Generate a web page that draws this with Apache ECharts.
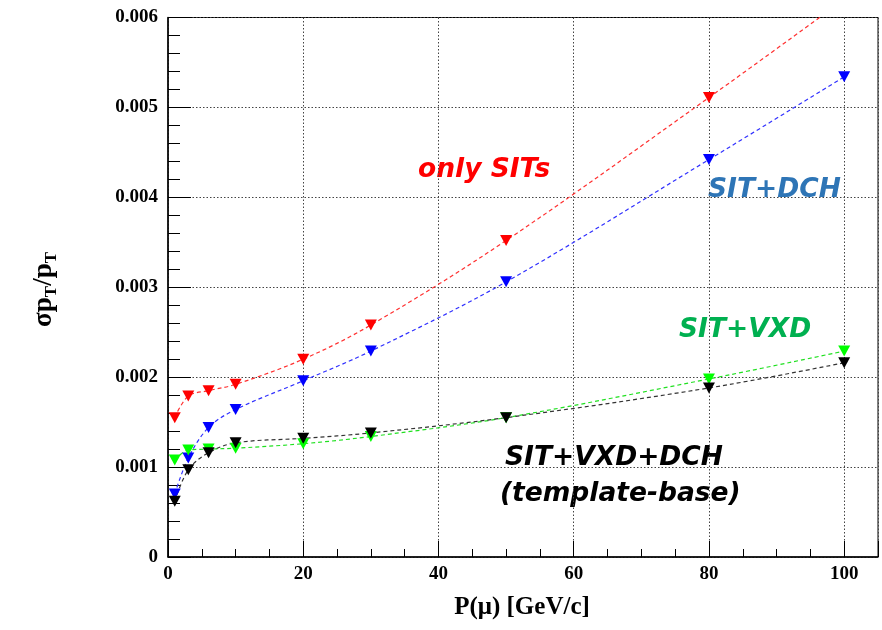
<!DOCTYPE html>
<html><head><meta charset="utf-8">
<script src="https://cdn.jsdelivr.net/npm/echarts@6/dist/echarts.min.js"></script>
<style>html,body{margin:0;padding:0;background:#fff}#c{width:882px;height:630px}</style>
</head><body><div id="c"></div>
<script>
var momenta = [1, 3, 6, 10, 20, 30, 50, 80, 100];
var onlySIT = [0.00155, 0.00179, 0.00185, 0.00192, 0.00220, 0.00258, 0.00352, 0.00511, 0.00620];
var sitDCH = [0.00070, 0.00110, 0.00144, 0.00164, 0.00196, 0.00229, 0.00306, 0.00442, 0.00534];
var sitVXD = [0.00108, 0.00119, 0.00120, 0.00121, 0.00126, 0.00134, 0.00155, 0.00198, 0.00229];
var sitVXDDCH = [0.00062, 0.00097, 0.00116, 0.00127, 0.00132, 0.00138, 0.00155, 0.00188, 0.00216];
var yTicks = ['0', '0.001', '0.002', '0.003', '0.004', '0.005', '0.006'];
var xTicks = ['0', '20', '40', '60', '80', '100'];

function pairs(v) { return momenta.map(function (x, i) { return [x, v[i]]; }); }
function mk(name, vals, mColor, lColor) {
  return {
    name: name, type: 'line', data: pairs(vals), smooth: 0.35, clip: true,
    symbol: 'triangle', symbolRotate: 180, symbolSize: [12, 11],
    itemStyle: { color: mColor },
    lineStyle: { color: lColor, width: 1.2, type: [4, 3] }
  };
}
var serif = '"Liberation Serif", "DejaVu Serif", serif';
var sans = '"DejaVu Sans", sans-serif';
function note(x, y, text, color) {
  return { type: 'text', x: x, y: y, style: { text: text, fontFamily: sans, fontStyle: 'italic', fontWeight: 'bold', fontSize: 26.5, fill: color, verticalAlign: 'middle' } };
}
var chart = echarts.init(document.getElementById('c'));
chart.setOption({
  animation: false,
  backgroundColor: '#fff',
  grid: { left: 168, right: 4, top: 17.5, bottom: 73, show: true, borderColor: '#000', borderWidth: 1, backgroundColor: 'transparent' },
  xAxis: {
    type: 'value', min: 0, max: 105, interval: 20,
    axisLine: { onZero: false, lineStyle: { color: '#000', width: 1.5 } },
    axisTick: { inside: true, length: 16, lineStyle: { color: '#000' } },
    minorTick: { show: true, splitNumber: 4, length: 8, lineStyle: { color: '#000' } },
    splitLine: { show: true, lineStyle: { color: '#444', type: [1.5, 2], width: 1 } },
    axisLabel: {
      margin: 8, color: '#000', fontFamily: serif, fontWeight: 'bold', fontSize: 19,
      formatter: function (v) { var s = String(v); return xTicks.indexOf(s) >= 0 ? s : ''; }
    }
  },
  yAxis: {
    type: 'value', min: 0, max: 0.006, interval: 0.001,
    axisLine: { show: true, lineStyle: { color: '#000', width: 1.5 } },
    axisTick: { inside: true, length: 23, lineStyle: { color: '#000' } },
    minorTick: { show: true, splitNumber: 5, length: 12, lineStyle: { color: '#000' } },
    splitLine: { show: true, lineStyle: { color: '#444', type: [1.5, 2], width: 1 } },
    axisLabel: {
      margin: 10, color: '#000', fontFamily: serif, fontWeight: 'bold', fontSize: 19,
      formatter: function (v) { return yTicks[Math.round(v / 0.001)]; }
    }
  },
  series: [
    mk('only SITs', onlySIT, '#ff0000', '#ff3030'),
    mk('SIT+DCH', sitDCH, '#0000ff', '#3030ff'),
    mk('SIT+VXD', sitVXD, '#00ff00', '#20e020'),
    mk('SIT+VXD+DCH', sitVXDDCH, '#000000', '#333333')
  ],
  graphic: [
    { type: 'text', left: 31, top: 252, rotation: Math.PI / 2, originX: 0, originY: 0,
      style: { text: '{m|σp}{s|T}{m|/p}{s|T}', rich: {
        m: { fontFamily: serif, fontWeight: 'bold', fontSize: 27, fill: '#000' },
        s: { fontFamily: serif, fontWeight: 'bold', fontSize: 17, fill: '#000', padding: [14, 0, 0, 0] } } } },
    { type: 'text', x: 522, y: 608, style: { text: 'P(μ) [GeV/c]', fontFamily: serif, fontWeight: 'bold', fontSize: 25, fill: '#000', align: 'center', verticalAlign: 'middle' } },
    note(418, 170, 'only SITs', '#ff0000'),
    note(708, 190, 'SIT+DCH', '#2e75b6'),
    note(679, 330, 'SIT+VXD', '#00b050'),
    note(505, 458, 'SIT+VXD+DCH', '#000000'),
    note(500, 494, '(template-base)', '#000000')
  ]
});
</script></body></html>
